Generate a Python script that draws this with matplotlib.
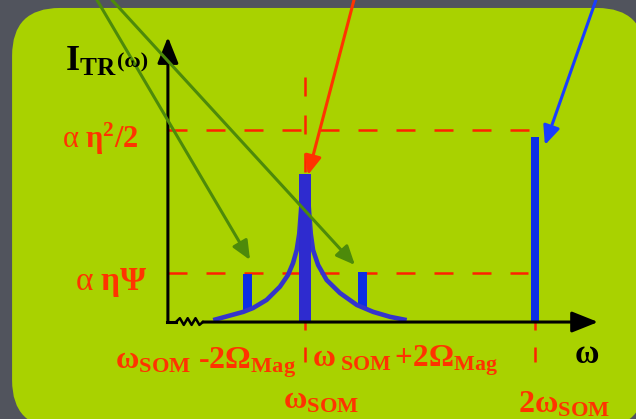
import matplotlib
matplotlib.use("Agg")
import matplotlib.pyplot as plt
from matplotlib.patches import FancyBboxPatch, FancyArrowPatch

# schematic transmission spectrum, omega in units of omega_SOM
omega_som = 1.0
two_omega_mag = 0.25
peak_x = [omega_som - two_omega_mag, omega_som, omega_som + two_omega_mag, 2 * omega_som]
peak_top = [0.25, 0.77, 0.26, 0.965]
peak_base = [0.06, 0.0, 0.073, 0.0]

level_eta2 = 1.0     # alpha eta^2 / 2
level_psi = 0.255    # alpha eta Psi

# broadened line around omega_SOM
curve_x = [0.601, 0.732, 0.774, 0.833, 0.891, 0.926, 0.948, 0.964, 0.975, 0.99,
           1.01, 1.025, 1.035, 1.057, 1.094, 1.152, 1.225, 1.296, 1.370, 1.442]
curve_y = [0.010, 0.053, 0.073, 0.115, 0.184, 0.245, 0.307, 0.375, 0.46, 0.70,
           0.70, 0.46, 0.375, 0.297, 0.219, 0.151, 0.089, 0.053, 0.027, 0.010]

# axis break on the omega axis
zig_x = [0.439, 0.456, 0.473, 0.490, 0.507, 0.524, 0.541, 0.556]
zig_y = [0.0, 0.02, -0.015, 0.02, -0.015, 0.02, -0.015, 0.0]

x0 = 0.404          # origin of the drawn axes
x_end = 2.274
y_end = 1.484

plt.rcParams['mathtext.fontset'] = 'custom'
plt.rcParams['mathtext.rm'] = 'Liberation Serif'
plt.rcParams['mathtext.it'] = 'Liberation Serif:italic'
plt.rcParams['mathtext.bf'] = 'Liberation Serif:bold'
plt.rcParams['mathtext.default'] = 'bf'

RED = '#ff3300'
DASH_RED = '#ff2200'
GREEN = '#4d8a0a'

fig = plt.figure(figsize=(6.36, 4.19), dpi=100)
fig.patch.set_facecolor('#51545d')
ax = fig.add_axes([0, 0, 1, 1])
ax.set_xlim(-0.326, 2.439)
ax.set_ylim(-0.505, 1.677)
ax.axis('off')

# green panel
panel = FancyBboxPatch((0.019, -0.0215), 0.995, 1.0025,
                       boxstyle="round,pad=0,rounding_size=0.075",
                       mutation_aspect=636 / 419, transform=ax.transAxes,
                       facecolor='#a9d200', edgecolor='none', zorder=0, clip_on=False)
ax.add_patch(panel)

# reference levels
dash = dict(color=DASH_RED, lw=1.8, linestyle=(0, (7.6, 7.6)), zorder=1)
ax.plot([x0, 2.0], [level_eta2, level_eta2], **dash)
ax.plot([x0, 1.97], [level_psi, level_psi], **dash)
ax.plot([omega_som, omega_som], [1.276, 0.0], **dash)
# short ticks below the omega axis
tick = dict(color=DASH_RED, lw=1.8, linestyle=(0, (3.2, 6.8, 6.0, 10)), zorder=1)
ax.plot([omega_som, omega_som], [0.0, -0.208], **tick)
ax.plot([2 * omega_som, 2 * omega_som], [0.0, -0.208], **tick)

# peaks
widths = [0.039, 0.048, 0.039, 0.035]
colors = ['#0b2ee4', '#2e2bcf', '#0b2ee4', '#0b30e6']
zorders = [2.5, 4, 2.5, 4]
for x, top, base, w, c, z in zip(peak_x, peak_top, peak_base, widths, colors, zorders):
    ax.bar(x, top - base, bottom=base, width=w, color=c, zorder=z)

ax.plot(curve_x, curve_y, color='#3434cc', lw=3.3, solid_capstyle='butt', zorder=3)

# axes with arrows and the break
ax.add_patch(FancyArrowPatch((x0, 0), (x0, y_end), arrowstyle='-|>,head_length=1.0,head_width=0.4',
                             mutation_scale=16, color='k', lw=2.2, shrinkA=0, shrinkB=0, zorder=5))
ax.plot([x0 - 0.005, zig_x[0]], [0, 0], color='k', lw=2.2, zorder=5)
ax.plot(zig_x, zig_y, color='k', lw=1.8, zorder=5)
ax.add_patch(FancyArrowPatch((zig_x[-1], 0), (x_end, 0), arrowstyle='-|>,head_length=1.0,head_width=0.4',
                             mutation_scale=16, color='k', lw=2.2, shrinkA=0, shrinkB=0, zorder=5))


def pointer(start, end, color):
    ax.add_patch(FancyArrowPatch(start, end, arrowstyle='-|>,head_length=0.95,head_width=0.42',
                                 mutation_scale=12, color=color, lw=2.2,
                                 shrinkA=0, shrinkB=0, zorder=6))


pointer((0.0957, 1.677), (0.761, 0.323), GREEN)
pointer((0.161, 1.677), (1.217, 0.297), GREEN)
pointer((1.213, 1.677), (1.013, 0.766), '#ff3300')
pointer((2.265, 1.677), (2.043, 0.922), '#1a3cff')

# labels
ax.text(-0.0435, 1.307, r'$I_{TR}$', fontsize=26, color='k', va='baseline', zorder=7)
ax.text(0.182, 1.323, '(ω)', fontsize=16, color='k', fontweight='bold',
        family='Liberation Serif', va='baseline', zorder=7)
ax.text(-0.0565, 0.906, r'$\mathrm{α}\ η^{2}/2$', fontsize=22, color=RED, va='baseline', zorder=7)
ax.text(0.0, 0.167, r'$\mathrm{α}\ ηΨ$', fontsize=24, color=RED, va='baseline', zorder=7)
ax.text(0.174, -0.240, r'$ω_{SOM}\ ‐2Ω_{Mag}$', fontsize=23, color=RED, va='baseline', zorder=7)
ax.text(1.030, -0.234, r'$ω_{\ SOM}\,{+}2Ω_{Mag}$', fontsize=22.5, color=RED, va='baseline', zorder=7)
ax.text(0.904, -0.448, r'$ω_{SOM}$', fontsize=23, color=RED, va='baseline', zorder=7)
ax.text(1.926, -0.469, r'$2ω_{SOM}$', fontsize=23, color=RED, va='baseline', zorder=7)
ax.text(2.170, -0.214, r'$ω$', fontsize=24, color='k', va='baseline', zorder=7)

fig.savefig('out.png', dpi=100, facecolor=fig.get_facecolor())
